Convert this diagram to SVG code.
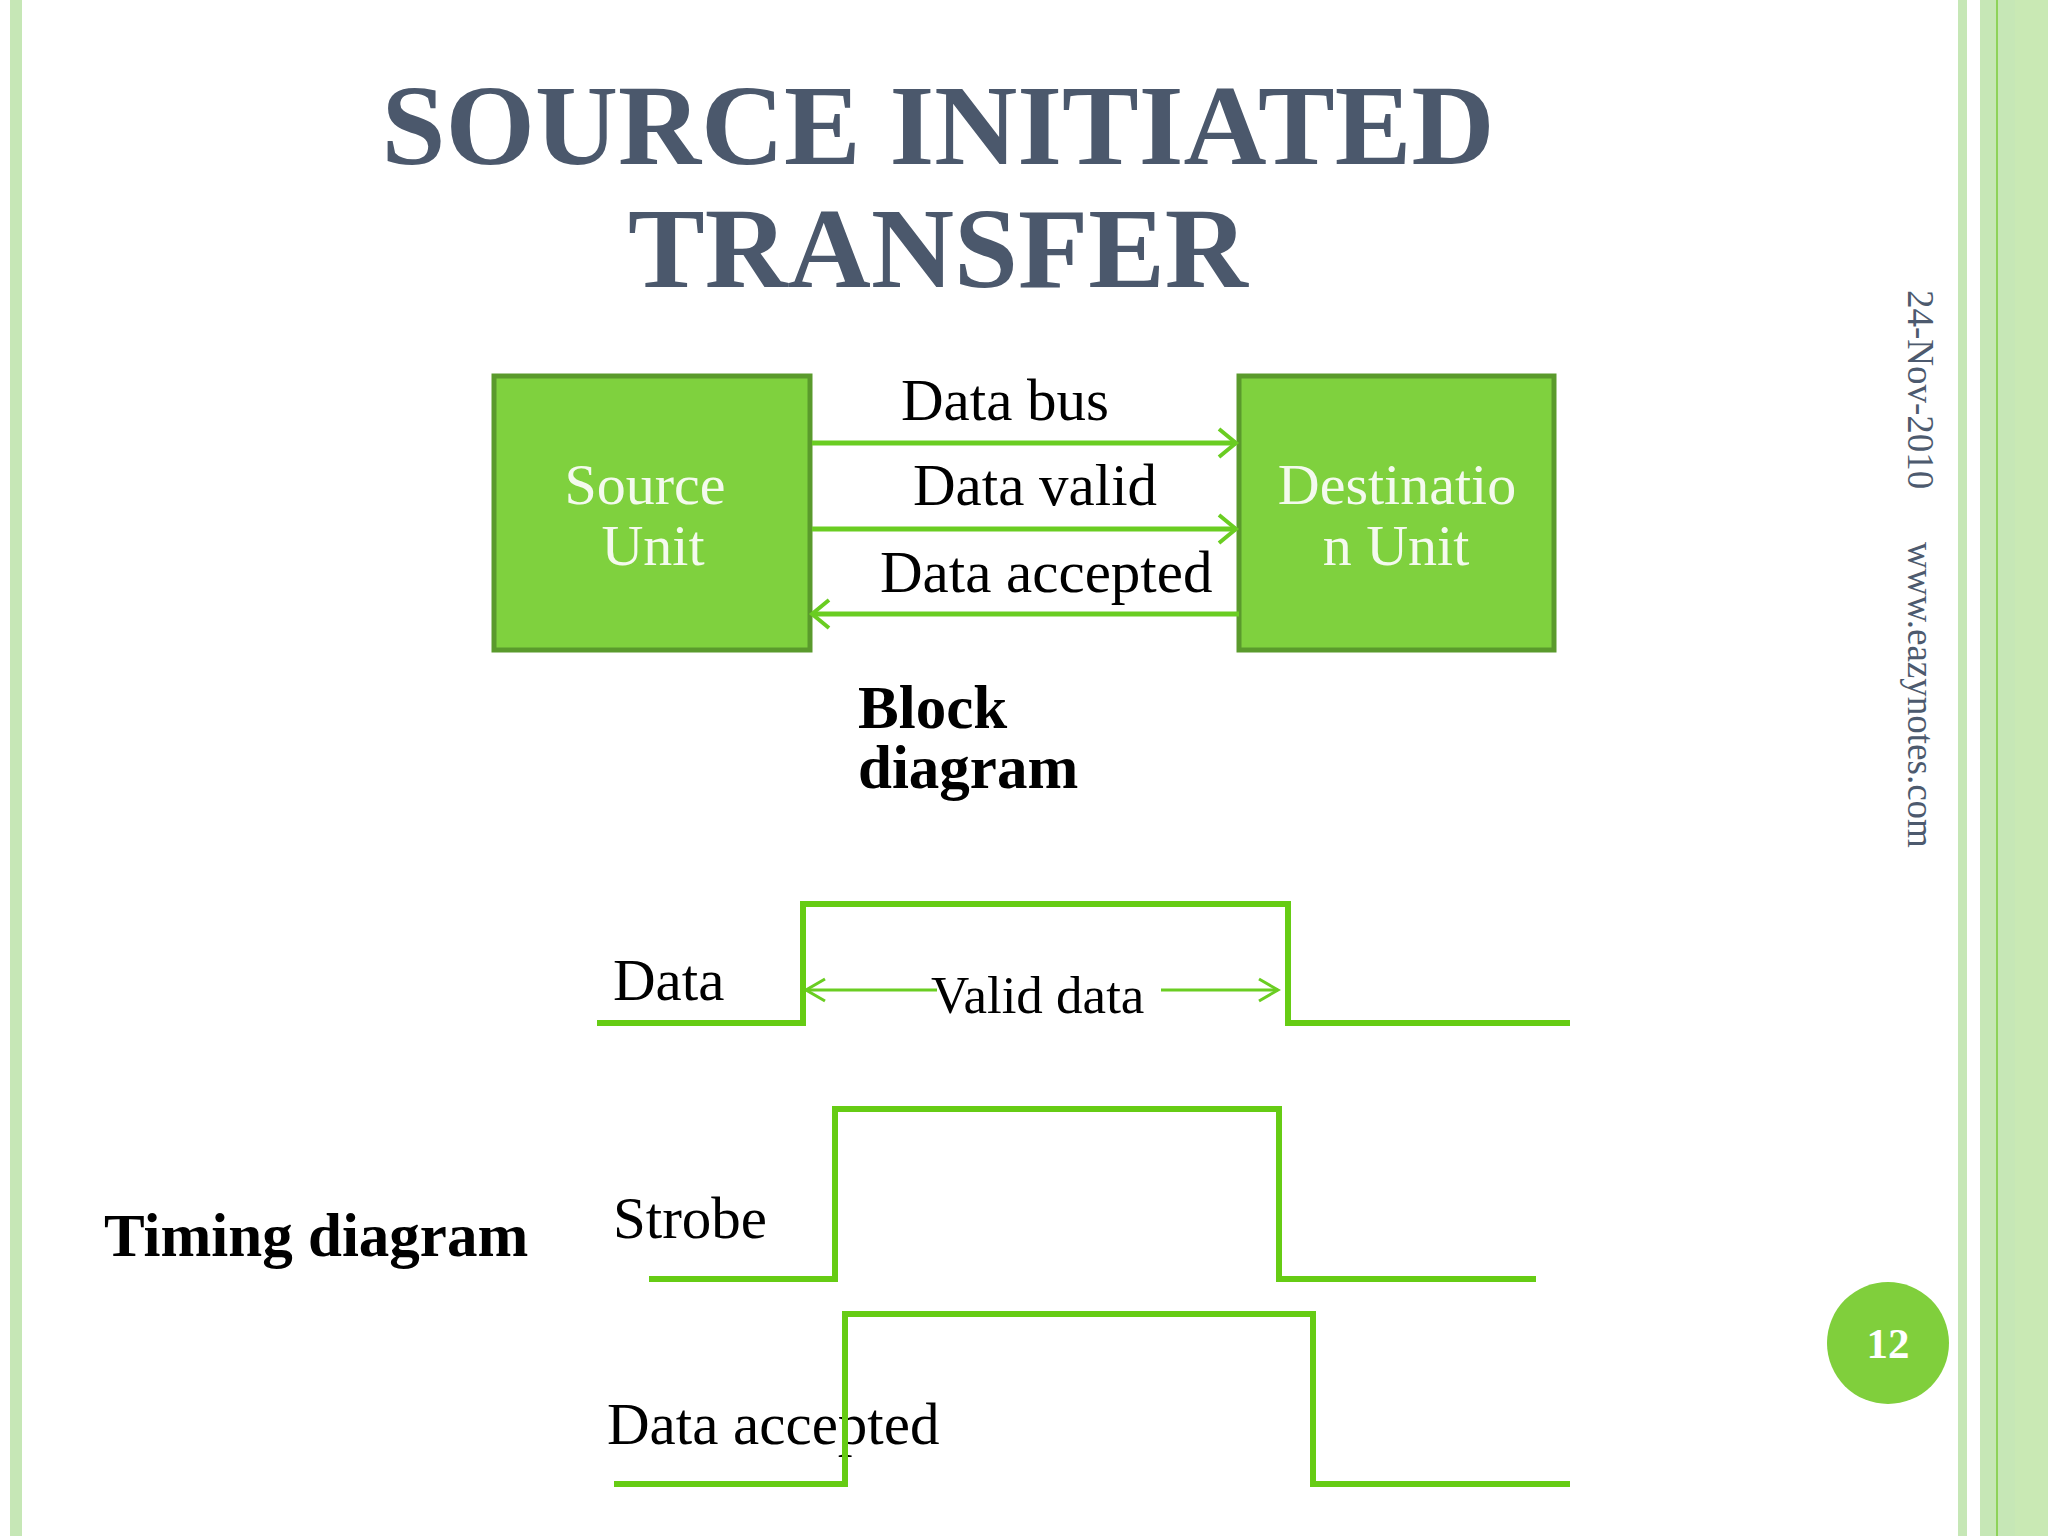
<svg xmlns="http://www.w3.org/2000/svg" width="2048" height="1536" viewBox="0 0 2048 1536">
  <style>
    .title { font-family: "Liberation Serif", serif; font-weight: bold; font-size: 115px; fill: #4b586c; text-anchor: middle; }
    .box { fill: #7fd13e; stroke: #5a9a2c; stroke-width: 5; }
    .boxtxt { font-family: "Liberation Serif", serif; font-size: 58px; fill: #f4faee; text-anchor: middle; }
    .lbl { font-family: "Liberation Serif", serif; font-size: 59px; fill: #000; }
    .small { font-size: 53px; }
    .bold { font-family: "Liberation Serif", serif; font-size: 61px; font-weight: bold; fill: #000; }
    .conn { stroke: #6acd22; stroke-width: 5; fill: none; }
    .thin { stroke: #6acd22; stroke-width: 3; fill: none; }
    .wave { stroke: #66cc14; stroke-width: 6; fill: none; }
    .side { font-family: "Liberation Serif", serif; font-size: 37px; fill: #4d5a6e; }
    .stripe { fill: #c6e7b6; }
  </style>
  <defs>
    <marker id="chev" markerUnits="userSpaceOnUse" viewBox="0 0 22 32" refX="19" refY="16" markerWidth="22" markerHeight="32" orient="auto" overflow="visible">
      <path d="M2,2 L19,16 L2,30" fill="none" stroke="#6acd22" stroke-width="4"/>
    </marker>
    <marker id="chevs" markerUnits="userSpaceOnUse" viewBox="0 0 24 26" refX="21" refY="13" markerWidth="24" markerHeight="26" orient="auto" overflow="visible">
      <path d="M2,2 L21,13 L2,24" fill="none" stroke="#6acd22" stroke-width="3"/>
    </marker>
  </defs>

  <rect x="0" y="0" width="2048" height="1536" fill="#ffffff"/>

  <g id="frame">
    <rect class="stripe" x="10" y="0" width="12" height="1536"/>
    <rect class="stripe" x="1958" y="0" width="9" height="1536"/>
    <rect class="stripe" x="1980" y="0" width="68" height="1536"/>
    <rect x="1996" y="0" width="2" height="1536" fill="#8ed35a"/>
    <rect x="2015" y="0" width="33" height="1536" fill="#c9e9b4"/>
  </g>

  <g id="title">
    <text class="title" x="938" y="164">SOURCE INITIATED</text>
    <text class="title" x="938" y="287">TRANSFER</text>
  </g>

  <g id="source-unit">
    <rect class="box" x="494" y="376" width="316" height="274"/>
    <text class="boxtxt" x="645" y="504">Source</text>
    <text class="boxtxt" x="653" y="565">Unit</text>
  </g>

  <g id="destination-unit">
    <rect class="box" x="1239" y="376" width="315" height="274"/>
    <text class="boxtxt" x="1397" y="504">Destinatio</text>
    <text class="boxtxt" x="1396" y="565">n Unit</text>
  </g>

  <g id="connectors">
    <line class="conn" x1="812" y1="443" x2="1236" y2="443" marker-end="url(#chev)"/>
    <line class="conn" x1="812" y1="529" x2="1236" y2="529" marker-end="url(#chev)"/>
    <line class="conn" x1="1239" y1="614" x2="812" y2="614" marker-end="url(#chev)"/>
    <line class="thin" x1="937" y1="990" x2="806" y2="990" marker-end="url(#chevs)"/>
    <line class="thin" x1="1161" y1="990" x2="1278" y2="990" marker-end="url(#chevs)"/>
  </g>

  <g id="connector-labels">
    <text class="lbl" x="901" y="420">Data bus</text>
    <text class="lbl" x="913" y="505">Data valid</text>
    <text class="lbl" x="880" y="592">Data accepted</text>
  </g>

  <g id="block-label">
    <text class="bold" x="858" y="728">Block</text>
    <text class="bold" x="858" y="788">diagram</text>
  </g>

  <g id="timing-label">
    <text class="bold" x="104" y="1256">Timing diagram</text>
  </g>

  <g id="data-wave">
    <polyline class="wave" points="597,1023 803,1023 803,904 1288,904 1288,1023 1570,1023"/>
    <text class="lbl" x="613" y="1000">Data</text>
    <text class="lbl small" x="931" y="1013">Valid data</text>
  </g>

  <g id="strobe-wave">
    <polyline class="wave" points="649,1279 835,1279 835,1109 1279,1109 1279,1279 1536,1279"/>
    <text class="lbl" x="613" y="1238">Strobe</text>
  </g>

  <g id="accepted-wave">
    <text class="lbl" x="607" y="1444">Data accepted</text>
    <polyline class="wave" points="614,1484 845,1484 845,1314 1313,1314 1313,1484 1570,1484"/>
  </g>

  <g id="footer">
    <text class="side" transform="translate(1908,290) rotate(90)">24-Nov-2010</text>
    <text class="side" transform="translate(1908,542) rotate(90)">www.eazynotes.com</text>
  </g>

  <g id="page-number">
    <circle cx="1888" cy="1343" r="61" fill="#80cf3c"/>
    <text x="1888" y="1358" font-family="Liberation Serif, serif" font-weight="bold" font-size="43" fill="#ffffff" text-anchor="middle">12</text>
  </g>
</svg>
